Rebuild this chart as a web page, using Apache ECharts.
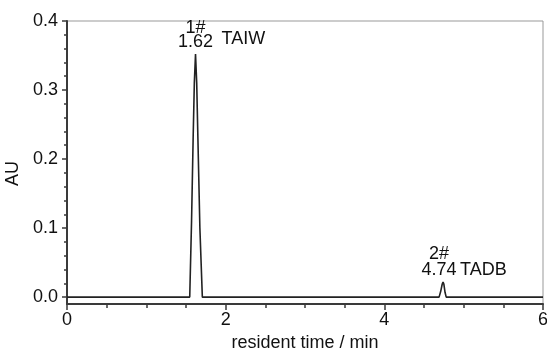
<!DOCTYPE html>
<html>
<head>
<meta charset="utf-8">
<script src="https://cdn.jsdelivr.net/npm/echarts@6/dist/echarts.min.js"></script>
<style>html,body{margin:0;padding:0;background:#fff}#c{width:547px;height:349px}</style>
</head>
<body>
<div id="c"></div>
<script>
// Chromatogram points (retention time in min, absorbance in AU)
var times = [0, 1.547, 1.57, 1.59, 1.605, 1.62, 1.635, 1.65, 1.675, 1.706, 4.69, 4.71, 4.73, 4.74, 4.75, 4.765, 4.78, 6];
var au    = [0, 0, 0.11, 0.23, 0.31, 0.352, 0.31, 0.23, 0.10, 0, 0, 0.008, 0.019, 0.022, 0.019, 0.007, 0, 0];

// Peak annotations
var peakTimes  = [1.62, 4.74];
var peakHeights = [0.352, 0.022];
var peakNums   = ['1#', '2#'];
var peakLabels = ['1.62', '4.74'];
var peakNames  = ['TAIW', 'TADB'];

// Axis ticks
var xTicks = [0, 2, 4, 6];
var yTicks = [0.0, 0.1, 0.2, 0.3, 0.4];
var yMinorTicks = [0.02,0.04,0.06,0.08,0.12,0.14,0.16,0.18,0.22,0.24,0.26,0.28,0.32,0.34,0.36,0.38];

var FONT = "'Liberation Sans', Arial, sans-serif";
var FS = 18;
var axisColor = '#3a3a3a';

var peakBlockStyle = [
  {pos: [0, -5], lh1: 12, lh2: 15},
  {pos: [-4, -4], lh1: 18, lh2: 15}
];
var nameStyle = [
  {pos: [26, -15]},
  {pos: [17, -12]}
];

var mpData = [];
peakTimes.forEach(function (t, i) {
  mpData.push({
    coord: [t, peakHeights[i]],
    label: {
      show: true,
      position: peakBlockStyle[i].pos,
      align: 'center',
      verticalAlign: 'bottom',
      formatter: '{n|' + peakNums[i] + '}\n{v|' + peakLabels[i] + '}',
      rich: {
        n: {fontFamily: FONT, fontSize: FS, color: '#111', lineHeight: peakBlockStyle[i].lh1, align: 'center'},
        v: {fontFamily: FONT, fontSize: FS, color: '#111', lineHeight: peakBlockStyle[i].lh2, align: 'center'}
      }
    }
  });
  mpData.push({
    coord: [t, peakHeights[i]],
    label: {
      show: true,
      position: nameStyle[i].pos,
      align: 'left',
      verticalAlign: 'middle',
      formatter: peakNames[i],
      fontFamily: FONT, fontSize: FS, color: '#111'
    }
  });
});

var chart = echarts.init(document.getElementById('c'), null, {renderer: 'canvas'});
chart.setOption({
  animation: false,
  backgroundColor: '#fff',
  grid: {left: 67, right: 4, top: 21, bottom: 45, containLabel: false, outerBoundsMode: 'none',
    show: true, borderColor: '#999', borderWidth: 1, backgroundColor: '#fff'},
  xAxis: {
    type: 'value', min: 0, max: 6, interval: 2,
    axisLine: {show: true, onZero: false, lineStyle: {color: axisColor, width: 2}},
    axisTick: {show: true, length: 6, lineStyle: {color: axisColor, width: 1.5}},
    minorTick: {show: true, splitNumber: 4, length: 4, lineStyle: {color: axisColor, width: 1.5}},
    splitLine: {show: false},
    axisLabel: {fontFamily: FONT, fontSize: FS, color: '#111', margin: 7,
      customValues: xTicks},
    name: 'resident time / min', nameLocation: 'middle', nameGap: 27,
    nameTextStyle: {fontFamily: FONT, fontSize: FS, color: '#111'}
  },
  yAxis: [{
    type: 'value', min: -0.01, max: 0.4,
    axisLine: {show: true, onZero: false, lineStyle: {color: axisColor, width: 2}},
    axisTick: {show: true, length: 5, customValues: yTicks, lineStyle: {color: axisColor, width: 1.5}},
    splitLine: {show: false},
    axisLabel: {fontFamily: FONT, fontSize: FS, color: '#111', margin: 9, customValues: yTicks,
      formatter: function (v) { return v.toFixed(1); }},
    name: 'AU', nameLocation: 'middle', nameGap: 42,
    nameTextStyle: {fontFamily: FONT, fontSize: FS, color: '#111', padding: [0, 22, 0, 0]}
  }, {
    type: 'value', min: -0.01, max: 0.4, position: 'left',
    axisLine: {show: false},
    axisTick: {show: true, length: 3, customValues: yMinorTicks, lineStyle: {color: axisColor, width: 1.5}},
    axisLabel: {show: false},
    splitLine: {show: false}
  }],
  series: [{
    type: 'line',
    data: times.map(function (t, i) { return [t, au[i]]; }),
    showSymbol: false,
    symbol: 'none',
    lineStyle: {color: '#222', width: 1.6},
    z: 5,
    markPoint: {
      symbol: 'circle', symbolSize: 0,
      itemStyle: {color: 'transparent'},
      data: mpData
    }
  }]
});
</script>
</body>
</html>
